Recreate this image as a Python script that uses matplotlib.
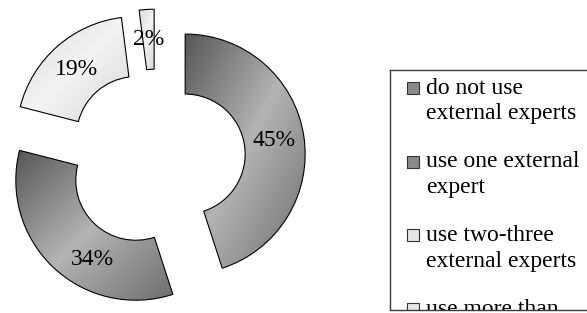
import numpy as np
import matplotlib.pyplot as plt
from matplotlib.patches import Rectangle

# data
shares = [45, 34, 19, 2]
labels = ["do not use\nexternal experts", "use one external\nexpert",
          "use two-three\nexternal experts", "use more than\nthree experts"]
# gradient stops per slice: top-left, middle, bottom-right
dark = ["#565656", "#b4b4b4", "#6e6e6e"]
light = ["#dcdcdc", "#f3f3f3", "#d6d6d6"]
stops = [dark, dark, light, light]

plt.rcParams['font.family'] = ['Liberation Serif', 'DejaVu Serif']

W, H = 587, 313
fig = plt.figure(figsize=(W / 100, H / 100), dpi=100)
ax = fig.add_axes([0, 0, 1, 1])

scale = 120.0   # px per unit radius
cx, cy = 156, 158.7  # pie centre, px from top-left

wedges, texts, autotexts = ax.pie(
    shares, startangle=90, counterclock=False, radius=1,
    explode=[0.246] * len(shares), autopct='%.0f%%', pctdistance=0.75,
    wedgeprops=dict(width=0.5, edgecolor='black', linewidth=0.8),
    textprops=dict(fontsize=17, color='black'))


def hex2rgb(h):
    return np.array([int(h[i:i + 2], 16) / 255 for i in (1, 3, 5)])


for w, st in zip(wedges, stops):
    ext = w.get_path().get_extents()
    x0, y0, x1, y1 = ext.x0, ext.y0, ext.x1, ext.y1
    n = 200
    xs = np.linspace(0, 1, n)
    ys = np.linspace(0, 1, n)
    gx, gy = np.meshgrid(xs, ys)
    t = (gx + gy) / 2  # row 0 = top (origin upper)
    c0, c1, c2 = [hex2rgb(s) for s in st]
    a = np.clip(t / 0.5, 0, 1)[..., None]
    b = np.clip((t - 0.5) / 0.5, 0, 1)[..., None]
    img = np.where(t[..., None] < 0.5, c0 + (c1 - c0) * a, c1 + (c2 - c1) * b)
    im = ax.imshow(img, extent=(x0, x1, y0, y1), origin='upper',
                   interpolation='bilinear', zorder=0.5)
    im.set_clip_path(w)
    w.set_facecolor('none')
    w.set_zorder(1)

for t in autotexts:
    t.set_zorder(3)

# the 34% label sits further round the ring than the slice middle
w = wedges[1]
ang = np.deg2rad(w.theta1 + (w.theta2 - w.theta1) * 0.62)
ox, oy = w.center
autotexts[1].set_position((ox + 0.75 * np.cos(ang), oy + 0.75 * np.sin(ang)))

ax.set_xlim(-cx / scale, (W - cx) / scale)
ax.set_ylim(-(H - cy) / scale, cy / scale)
ax.set_aspect('equal')
ax.axis('off')

# legend: its own axes, box runs off the figure and the last entry is cut
bx0, bx1, by0, by1 = 390, 620, 70, 309.5
lg = fig.add_axes([bx0 / W, (H - by1) / H, (bx1 - bx0) / W, (by1 - by0) / H])
lg.set_xlim(bx0, bx1)
lg.set_ylim(by1, by0)
lg.set_xticks([])
lg.set_yticks([])
lg.patch.set_alpha(0)
for sp in lg.spines.values():
    sp.set_color('#3a3a3a')
    sp.set_linewidth(1.0)
    sp.set_zorder(10)

legend_fills = ["#8a8a8a", "#8a8a8a", "#e6e6e6", "#e6e6e6"]
for i, (lab, fc) in enumerate(zip(labels, legend_fills)):
    yc = 88 + 73.7 * i
    lg.add_patch(Rectangle((407, yc - 6), 12, 12, facecolor=fc,
                           edgecolor='#333333', linewidth=0.8))
    for j, line in enumerate(lab.split("\n")):
        lg.text(426, yc + 26 * j, line, fontsize=17, va='center', ha='left',
                clip_on=True)

fig.savefig("out.png", dpi=100)
